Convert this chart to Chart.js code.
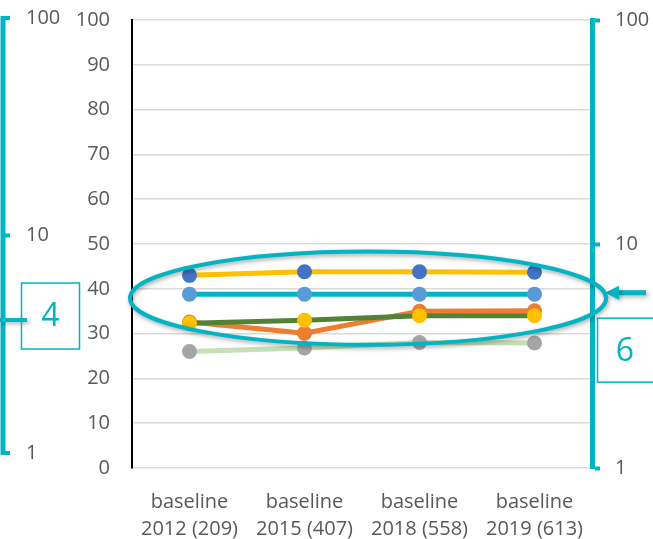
<!DOCTYPE html>
<html>
<head>
<meta charset="utf-8">
<script src="https://cdn.jsdelivr.net/npm/chart.js@4.4.1/dist/chart.umd.min.js"></script>
<style>
	html, body { margin: 0; padding: 0; background: #fff; }
	canvas { display: block; }
</style>
</head>
<body>
<canvas id="myChart" width="653" height="539"></canvas>
<script>
// data
const labels = [
	['baseline', '2012 (209)'],
	['baseline', '2015 (407)'],
	['baseline', '2018 (558)'],
	['baseline', '2019 (613)']
];
const goldSeries = [43, 43.8, 43.8, 43.7];
const tealSeries = [38.8, 38.8, 38.8, 38.8];
const orangeSeries = [32.6, 30.1, 35, 35.1];
const greenSeries = [32.3, 33, 34, 34];
const paleSeries = [26, 26.8, 28, 27.9];
const logTicks = [1, 10, 100];
const leftMark = 4;
const rightMark = 6;

const COLORS = {
	teal: '#00B5C3',
	gold: '#FFC000',
	blue: '#4472C4',
	lightBlue: '#5B9BD5',
	orange: '#ED7D31',
	green: '#548235',
	pale: '#C5E0B4',
	gray: '#A5A5A5',
	text: '#595959',
	grid: '#D9D9D9'
};
const FONT = 'Open Sans';

const ctx = document.getElementById('myChart');

const series = (data, line, marker, order) => ({
	data,
	borderColor: line,
	backgroundColor: marker,
	borderWidth: 5,
	pointRadius: 7.5,
	pointHoverRadius: 7.5,
	pointBorderWidth: 0,
	pointBackgroundColor: marker,
	tension: 0,
	order
});

// fixed widths, and no label padding above/below the vertical axes
const fixWidth = w => s => {
	s.width = w;
	s.paddingTop = 0;
	s.paddingBottom = 0;
};

// teal decorations: outer log axis on the left, marks, arrow, ellipse
const decorations = {
	id: 'decorations',
	afterDraw(chart) {
		const { ctx, scales: { x, y, yL, yR } } = chart;
		ctx.save();

		// left log axis
		const top = yL.getPixelForValue(100);
		const bottom = yL.getPixelForValue(1);
		ctx.strokeStyle = COLORS.teal;
		ctx.fillStyle = COLORS.teal;
		ctx.lineWidth = 5;
		ctx.beginPath();
		ctx.moveTo(3, top - 2);
		ctx.lineTo(3, bottom + 2);
		ctx.stroke();
		ctx.font = `20px "${FONT}"`;
		ctx.textBaseline = 'middle';
		ctx.textAlign = 'left';
		logTicks.forEach(v => {
			const py = yL.getPixelForValue(v);
			ctx.fillStyle = COLORS.teal;
			ctx.fillRect(3, py - 2, 7, 4);
			ctx.fillStyle = COLORS.text;
			ctx.fillText(String(v), 26, py);
		});

		// mark at 4 on the left log axis
		const p4 = yL.getPixelForValue(leftMark);
		ctx.save();
		ctx.shadowColor = 'rgba(0,0,0,0.3)';
		ctx.shadowBlur = 4;
		ctx.shadowOffsetX = 2;
		ctx.shadowOffsetY = 2;
		ctx.strokeStyle = COLORS.teal;
		ctx.lineWidth = 4;
		ctx.beginPath();
		ctx.moveTo(0, p4 - 2);
		ctx.lineTo(27, p4 - 2);
		ctx.stroke();
		ctx.restore();
		ctx.strokeStyle = COLORS.teal;
		ctx.lineWidth = 1.5;
		ctx.strokeRect(21.5, p4 - 39, 58, 66);
		ctx.fillStyle = COLORS.teal;
		ctx.font = `32px "${FONT}"`;
		ctx.textAlign = 'center';
		ctx.fillText(String(leftMark), 50.5, p4 - 5);

		// arrow at 6 on the right log axis
		const p6 = yR.getPixelForValue(rightMark);
		ctx.save();
		ctx.shadowColor = 'rgba(0,0,0,0.3)';
		ctx.shadowBlur = 4;
		ctx.shadowOffsetX = 2;
		ctx.shadowOffsetY = 2;
		ctx.strokeStyle = COLORS.teal;
		ctx.fillStyle = COLORS.teal;
		ctx.lineWidth = 5;
		ctx.beginPath();
		ctx.moveTo(616, p6 - 1);
		ctx.lineTo(646, p6 - 1);
		ctx.stroke();
		ctx.beginPath();
		ctx.moveTo(605, p6 - 1);
		ctx.lineTo(619, p6 - 8);
		ctx.lineTo(619, p6 + 6);
		ctx.closePath();
		ctx.fill();
		ctx.restore();
		ctx.strokeStyle = COLORS.teal;
		ctx.lineWidth = 1.5;
		ctx.strokeRect(597.5, p6 + 24.5, 70, 64);
		ctx.fillStyle = COLORS.teal;
		ctx.font = `32px "${FONT}"`;
		ctx.textAlign = 'center';
		ctx.fillText(String(rightMark), 625, p6 + 58);

		// ellipse round the cluster of series
		const cx = x.getPixelForValue(1.553);
		const rx = x.getPixelForValue(1.553 + 2.07) - cx;
		const cy = y.getPixelForValue(37.9);
		const ry = cy - y.getPixelForValue(37.9 + 10.4);
		ctx.save();
		ctx.shadowColor = 'rgba(0,0,0,0.35)';
		ctx.shadowBlur = 4;
		ctx.shadowOffsetX = 1;
		ctx.shadowOffsetY = 2;
		ctx.strokeStyle = COLORS.teal;
		ctx.lineWidth = 4;
		ctx.beginPath();
		ctx.ellipse(cx, cy, rx, ry, 0, 0, Math.PI * 2);
		ctx.stroke();
		ctx.restore();

		ctx.restore();
	}
};

new Chart(ctx, {
	type: 'line',
	data: {
		labels,
		datasets: [
			series(goldSeries, COLORS.gold, COLORS.blue, 1),
			series(tealSeries, COLORS.teal, COLORS.lightBlue, 2),
			series(paleSeries, COLORS.pale, COLORS.gray, 3),
			series(greenSeries, COLORS.green, COLORS.gold, 4),
			series(orangeSeries, COLORS.orange, COLORS.orange, 5)
		]
	},
	options: {
		responsive: false,
		animation: false,
		layout: {
			padding: { top: 20, right: 0, bottom: 0, left: 0 }
		},
		plugins: {
			legend: { display: false },
			tooltip: { enabled: false }
		},
		scales: {
			x: {
				type: 'category',
				offset: true,
				afterFit: s => { s.height = 71; },
				grid: { display: false, drawTicks: false },
				border: { display: false },
				ticks: {
					color: COLORS.text,
					padding: 21,
					maxRotation: 0,
					autoSkip: false,
					font: { size: 20, family: FONT, lineHeight: 1.35 }
				}
			},
			y: {
				position: 'left',
				min: 0,
				max: 100,
				afterFit: fixWidth(132),
				grid: { color: COLORS.grid, lineWidth: 1.5, drawTicks: false },
				border: { color: '#000', width: 2 },
				ticks: {
					stepSize: 10,
					padding: 22,
					color: COLORS.text,
					font: { size: 20, family: FONT }
				}
			},
			yL: {
				type: 'logarithmic',
				position: 'left',
				display: false,
				bounds: 'data',
				min: 0.853,
				max: 97.9
			},
			yR: {
				type: 'logarithmic',
				position: 'right',
				min: 1,
				max: 100,
				bounds: 'data',
				afterFit: fixWidth(61),
				afterBuildTicks: axis => {
					axis.ticks = logTicks.map(v => ({ value: v }));
				},
				grid: {
					drawOnChartArea: false,
					color: COLORS.teal,
					tickColor: COLORS.teal,
					tickLength: 8,
					tickWidth: 4
				},
				border: { color: COLORS.teal, width: 5 },
				ticks: {
					padding: 15,
					color: COLORS.text,
					font: { size: 20, family: FONT },
					callback: v => String(v)
				}
			}
		}
	},
	plugins: [decorations]
});
</script>
</body>
</html>
